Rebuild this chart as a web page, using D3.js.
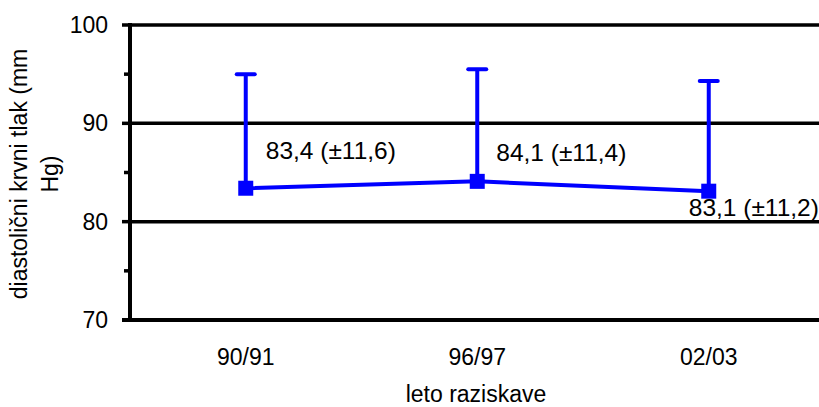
<!DOCTYPE html>
<html>
<head>
<meta charset="utf-8">
<script src="https://cdn.jsdelivr.net/npm/d3@7"></script>
<style>
  body { margin: 0; background: #fff; }
  text { font-family: Arial, "Liberation Sans", sans-serif; fill: #000; }
</style>
</head>
<body>
<div id="chart"></div>
<script>
const years = ['90/91', '96/97', '02/03']
const means = [83.4, 84.1, 83.1]
const sds = [11.6, 11.4, 11.2]
const labels = ['83,4 (±11,6)', '84,1 (±11,4)', '83,1 (±11,2)']
const majorTicks = [70, 80, 90, 100]
const minorTicks = [75, 85, 95]

const width = 819
const height = 407
const plotLeft = 130
const plotTop = 25
const plotBottom = 320
const plotRight = 824.5

const svg = d3
  .select('#chart')
  .append('svg')
  .attr('width', width)
  .attr('height', height)

const x = d3.scaleBand().domain(years).range([plotLeft, plotRight])
const y = d3.scaleLinear().domain([70, 100]).range([plotBottom, plotTop])
const cx = d => x(d) + x.bandwidth() / 2

const data = years.map((d, i) => ({ year: d, mean: means[i], sd: sds[i], label: labels[i] }))

// gridlines
svg
  .selectAll('.grid')
  .data([80, 90, 100])
  .enter()
  .append('line')
  .attr('x1', plotLeft)
  .attr('x2', width)
  .attr('y1', d => y(d))
  .attr('y2', d => y(d))
  .attr('stroke', '#000')
  .attr('stroke-width', 3.5)

// y axis ticks
svg
  .selectAll('.major')
  .data(majorTicks)
  .enter()
  .append('line')
  .attr('x1', plotLeft - 8)
  .attr('x2', plotLeft)
  .attr('y1', d => y(d))
  .attr('y2', d => y(d))
  .attr('stroke', '#000')
  .attr('stroke-width', 3.5)

svg
  .selectAll('.minor')
  .data(minorTicks)
  .enter()
  .append('line')
  .attr('x1', plotLeft - 6)
  .attr('x2', plotLeft)
  .attr('y1', d => y(d))
  .attr('y2', d => y(d))
  .attr('stroke', '#000')
  .attr('stroke-width', 3.5)

svg
  .selectAll('.ylab')
  .data(majorTicks)
  .enter()
  .append('text')
  .attr('x', 108)
  .attr('y', d => y(d))
  .attr('dy', '0.35em')
  .attr('text-anchor', 'end')
  .style('font-size', '23px')
  .text(d => d)

// axis lines
svg.append('line')
  .attr('x1', plotLeft).attr('x2', plotLeft)
  .attr('y1', plotTop - 2).attr('y2', plotBottom + 2)
  .attr('stroke', '#000').attr('stroke-width', 4)
svg.append('line')
  .attr('x1', plotLeft - 8).attr('x2', width)
  .attr('y1', plotBottom).attr('y2', plotBottom)
  .attr('stroke', '#000').attr('stroke-width', 4)

// x labels
svg
  .selectAll('.xlab')
  .data(years)
  .enter()
  .append('text')
  .attr('x', d => cx(d))
  .attr('y', 365)
  .attr('text-anchor', 'middle')
  .style('font-size', '23px')
  .text(d => d)

svg.append('text')
  .attr('x', 476)
  .attr('y', 402)
  .attr('text-anchor', 'middle')
  .style('font-size', '23px')
  .text('leto raziskave')

// y title
const yt = svg.append('text')
  .attr('transform', 'translate(0,174) rotate(-90)')
  .attr('text-anchor', 'middle')
  .style('font-size', '23px')
yt.append('tspan').attr('x', 0).attr('y', 27).text('diastolični krvni tlak (mm')
yt.append('tspan').attr('x', 0).attr('y', 58).text('Hg)')

// error bars (upper only)
const blue = '#0000ff'
svg
  .selectAll('.err')
  .data(data)
  .enter()
  .append('line')
  .attr('x1', d => cx(d.year))
  .attr('x2', d => cx(d.year))
  .attr('y1', d => y(d.mean))
  .attr('y2', d => y(d.mean + d.sd))
  .attr('stroke', blue)
  .attr('stroke-width', 4)

svg
  .selectAll('.cap')
  .data(data)
  .enter()
  .append('line')
  .attr('x1', d => cx(d.year) - 9)
  .attr('x2', d => cx(d.year) + 9)
  .attr('y1', d => y(d.mean + d.sd))
  .attr('y2', d => y(d.mean + d.sd))
  .attr('stroke', blue)
  .attr('stroke-width', 4)
  .attr('stroke-linecap', 'round')

// line
const line = d3.line().x(d => cx(d.year)).y(d => y(d.mean))
svg.append('path')
  .datum(data)
  .attr('d', line)
  .attr('fill', 'none')
  .attr('stroke', blue)
  .attr('stroke-width', 4)

svg
  .selectAll('.mark')
  .data(data)
  .enter()
  .append('rect')
  .attr('x', d => cx(d.year) - 7.5)
  .attr('y', d => y(d.mean) - 7.5)
  .attr('width', 15)
  .attr('height', 15)
  .attr('fill', blue)

// value labels
const labelPos = [[20, -29], [19, -20], [-20, 25]]
svg
  .selectAll('.val')
  .data(data)
  .enter()
  .append('text')
  .attr('x', (d, i) => cx(d.year) + labelPos[i][0])
  .attr('y', (d, i) => y(d.mean) + labelPos[i][1])
  .style('font-size', '24.5px')
  .text(d => d.label)
</script>
</body>
</html>
